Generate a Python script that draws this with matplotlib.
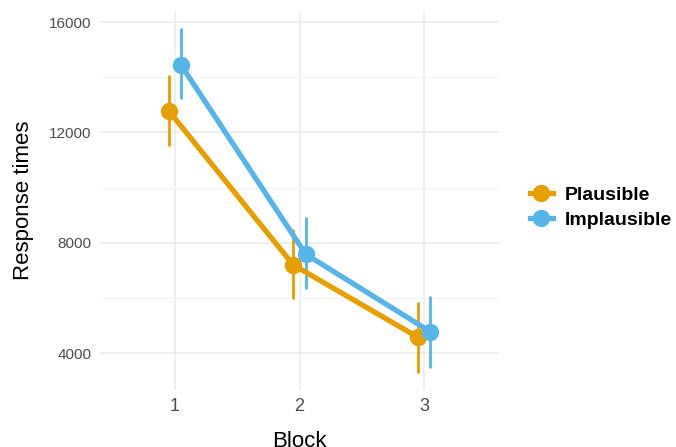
import matplotlib
matplotlib.use("Agg")
import matplotlib.pyplot as plt
from matplotlib.lines import Line2D
import numpy as np

plt.rcParams['font.family'] = ['Liberation Sans', 'DejaVu Sans']

blocks = [1, 2, 3]
conditions = ["Plausible", "Implausible"]
colors = {"Plausible": "#E69F00", "Implausible": "#56B4E9"}
means = {
    "Plausible": [12790, 7200, 4580],
    "Implausible": [14440, 7590, 4780],
}
lower = {
    "Plausible": [11510, 5965, 3275],
    "Implausible": [13200, 6340, 3480],
}
upper = {
    "Plausible": [14070, 8510, 5865],
    "Implausible": [15770, 8920, 6070],
}
dodge = {"Plausible": -0.05, "Implausible": 0.05}
y_ticks = [4000, 8000, 12000, 16000]
y_minor = [6000, 10000, 14000]

W, H = 676, 447
fig = plt.figure(figsize=(W / 100, H / 100), dpi=100)
left, right, top, bottom = 100, 499, 11, 390
ax = fig.add_axes([left / W, 1 - bottom / H, (right - left) / W, (bottom - top) / H])

for c in conditions:
    x = np.array(blocks) + dodge[c]
    ax.vlines(x, lower[c], upper[c], color=colors[c], lw=2.0, zorder=3)
    ax.plot(x, means[c], color=colors[c], lw=3.8, zorder=4, solid_capstyle='butt')
    ax.plot(x, means[c], 'o', color=colors[c], ms=12.5, zorder=5, mec='none')

ax.set_xlim(0.4, 3.6)
ax.set_ylim(2670, 16400)
ax.set_xticks(blocks)
ax.set_xticklabels([str(b) for b in blocks])
ax.set_yticks(y_ticks)
ax.set_yticklabels([str(v) for v in y_ticks])
ax.set_yticks(y_minor, minor=True)
ax.grid(True, which='major', color='#EBEBEB', lw=1.1)
ax.grid(True, which='minor', axis='y', color='#F2F2F2', lw=0.8)
ax.set_axisbelow(True)
for s in ax.spines.values():
    s.set_visible(False)
ax.tick_params(axis='both', which='both', length=0)
ax.tick_params(axis='y', labelsize=11, labelcolor='#4D4D4D', pad=6)
ax.tick_params(axis='x', labelsize=13, labelcolor='#4D4D4D', pad=6)

fig.text(299 / W, 0.0, "Block", fontsize=16, ha='center', va='baseline', color='black')
fig.text(13 / W, 1 - 200 / H, "Response times", fontsize=16, rotation=90,
         ha='left', va='center', color='black')

handles = [Line2D([0], [0], color=colors[c], lw=3.8, marker='o', ms=12.5, mec='none')
           for c in conditions]
leg = fig.legend(handles, conditions, loc='center left',
                 bbox_to_anchor=(522 / W, 1 - 207.5 / H), frameon=False,
                 borderaxespad=0, borderpad=0.4,
                 handlelength=1.2, handletextpad=0.6, labelspacing=0.38,
                 prop={'weight': 'bold', 'size': 14})

fig.savefig("out.png", dpi=100)
